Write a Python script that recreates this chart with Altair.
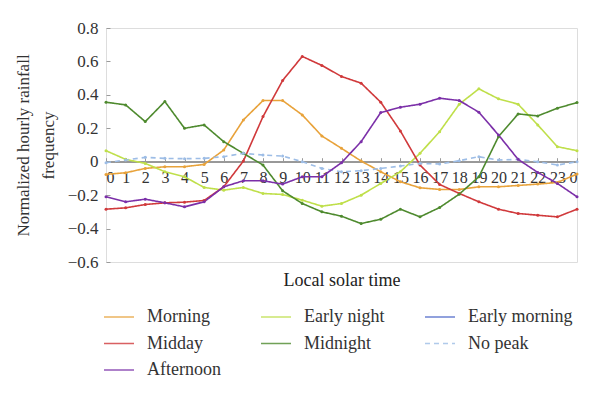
import altair as alt
import pandas as pd

hours = list(range(25))

morning = [-0.076, -0.066, -0.04, -0.03, -0.03, -0.016, 0.07, 0.25, 0.366, 0.366, 0.28, 0.154, 0.08,
           0.004, -0.06, -0.12, -0.156, -0.166, -0.166, -0.15, -0.15, -0.142, -0.134, -0.124, -0.074]
midday = [-0.284, -0.276, -0.256, -0.246, -0.242, -0.232, -0.15, 0.004, 0.27, 0.486, 0.63, 0.576, 0.51,
          0.47, 0.356, 0.184, -0.02, -0.136, -0.19, -0.24, -0.284, -0.31, -0.32, -0.33, -0.284]
afternoon = [-0.21, -0.24, -0.224, -0.246, -0.27, -0.24, -0.15, -0.114, -0.114, -0.134, -0.09, -0.09, -0.006,
             0.12, 0.294, 0.326, 0.344, 0.38, 0.366, 0.296, 0.16, 0.014, -0.064, -0.13, -0.21]
early_night = [0.066, 0.014, -0.01, -0.06, -0.09, -0.154, -0.17, -0.154, -0.19, -0.196, -0.23, -0.266, -0.25,
               -0.2, -0.13, -0.06, 0.05, 0.18, 0.344, 0.436, 0.376, 0.344, 0.22, 0.09, 0.066]
midnight = [0.356, 0.34, 0.24, 0.36, 0.20, 0.22, 0.12, 0.05, -0.02, -0.174, -0.25, -0.30, -0.326,
            -0.37, -0.344, -0.284, -0.33, -0.274, -0.194, -0.09, 0.15, 0.286, 0.274, 0.32, 0.354]
no_peak = [-0.006, 0.01, 0.026, 0.02, 0.018, 0.02, 0.03, 0.05, 0.04, 0.034, 0.0, -0.04, -0.06,
           -0.054, -0.04, -0.026, -0.01, -0.014, 0.006, 0.03, 0.01, 0.014, 0.0, -0.02, 0.0]

series = {
    "Morning": morning,
    "Early night": early_night,
    "Midday": midday,
    "Midnight": midnight,
    "No peak": no_peak,
    "Afternoon": afternoon,
}

# legend order (row-wise fill of 3 columns)
legend_order = ["Morning", "Early night", "Early morning", "Midday", "Midnight", "No peak", "Afternoon"]
legend_colors = ["#E8A23A", "#BFDF4A", "#4A64C8", "#D0393B", "#4E8A2E", "#9DBDE6", "#7B2FA8"]
legend_dash = [[1, 0], [1, 0], [1, 0], [1, 0], [1, 0], [5, 4], [1, 0]]

rows = []
for name, vals in series.items():
    for h, v in zip(hours, vals):
        rows.append({"hour": h, "value": v, "series": name})
df = pd.DataFrame(rows)

FONT = "Liberation Serif"
W, H = 471, 234

xscale = alt.Scale(domain=[0, 24], nice=False, zero=False)
yscale = alt.Scale(domain=[-0.6, 0.8], nice=False, zero=False)
yvals = [-0.6, -0.4, -0.2, 0, 0.2, 0.4, 0.6, 0.8]

label_expr = "datum.value == 24 ? '0' : datum.value"
ylabel_expr = "datum.value == 0 ? '0' : format(datum.value, '.1f')"

zero = alt.Chart(df).mark_rule(color="#9a9a9a", strokeWidth=1).encode(
    y=alt.datum(0, scale=yscale, axis=None),
)

lines = alt.Chart(df).mark_line(strokeWidth=1.6, point=alt.OverlayMarkDef(size=9, filled=True)).encode(
    x=alt.X("hour:Q", scale=xscale,
            axis=alt.Axis(values=hours, labelExpr=label_expr, offset=-(H * 6 / 14), orient="bottom",
                          domain=False, ticks=False, grid=False, labelFont=FONT, labelFontSize=16,
                          labelColor="#333", labelPadding=8, title="Local solar time",
                          titleFont=FONT, titleFontSize=18, titleFontWeight="normal", titleColor="#222",
                          titlePadding=86)),
    y=alt.Y("value:Q", scale=yscale,
            axis=alt.Axis(orient="left", values=yvals, labelExpr=ylabel_expr,
                          domain=False, ticks=False, grid=False, labelFont=FONT, labelFontSize=17,
                          labelColor="#333", labelPadding=8,
                          title=["Normalized hourly rainfall", "frequency"],
                          titleFont=FONT, titleFontSize=17, titleFontWeight="normal", titleColor="#333",
                          titlePadding=10, titleLineHeight=25)),
    color=alt.Color("series:N", sort=legend_order,
                    scale=alt.Scale(domain=legend_order, range=legend_colors),
                    legend=alt.Legend(title=None, orient="none", legendX=-3, legendY=273, columns=3,
                                      direction="horizontal",
                                      columnPadding=36, rowPadding=1.5, symbolType="stroke",
                                      symbolSize=900, symbolStrokeWidth=1.6, labelFont=FONT,
                                      labelFontSize=18, labelColor="#333", labelOffset=12,
                                      gridAlign="each", symbolOpacity=0.8)),
    strokeDash=alt.StrokeDash("series:N", sort=legend_order,
                              scale=alt.Scale(domain=legend_order, range=legend_dash),
                              legend=None),
    order="hour:Q",
)

# inward ticks: y ticks on left edge pointing right, x ticks on zero line pointing up
ticks = alt.Chart(df).mark_point(opacity=0).encode(
    x=alt.X("hour:Q", scale=xscale,
            axis=alt.Axis(orient="top", values=hours, labels=False, domain=False, ticks=True,
                          tickSize=4, tickColor="#9a9a9a", grid=False, title=None,
                          offset=-(H * 8 / 14))),
    y=alt.Y("value:Q", scale=yscale,
            axis=alt.Axis(orient="right", values=yvals,
                          labels=False, domain=False, ticks=True, tickSize=4, tickColor="#9a9a9a",
                          grid=False, title=None, offset=-W)),
)

chart = alt.layer(zero, lines, ticks).resolve_scale(x="independent", y="independent").properties(
    width=W, height=H,
    autosize=alt.AutoSizeParams(type="none"),
    padding={"left": 98, "top": 20, "right": 15, "bottom": 120},
).configure_view(stroke="#b5b5b5", strokeWidth=1).configure(background="white")

chart.save("out.html", embed_options={"renderer": "svg", "actions": False})
